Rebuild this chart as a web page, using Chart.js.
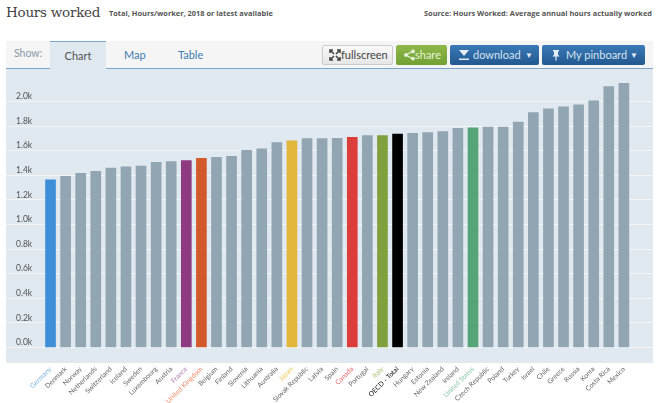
<!DOCTYPE html>
<html lang='en'>

<head>
  <meta charset='UTF-8'>
  <title>Hours worked</title>
  <script src="https://cdn.jsdelivr.net/npm/chart.js@4/dist/chart.umd.min.js"></script>
  <style>
    html, body { margin: 0; padding: 0; background: #fff; overflow: hidden; }
    body { width: 660px; height: 403px; position: relative; font-family: "Open Sans", sans-serif; }
    .abs { position: absolute; white-space: nowrap; }
    #title { left: 6px; top: 1px; font: 13.5px/22px "DejaVu Serif", serif; letter-spacing: -.25px; color: #444; }
    #subtitle { left: 109px; top: 7px; font: 700 7.4px/12px "Open Sans", sans-serif; color: #555; }
    #source { right: 8px; top: 7px; font: 700 7.4px/12px "Open Sans", sans-serif; color: #555; }
    #toolbar { left: 6px; top: 41px; width: 647px; height: 27px; background: #f5f5f5; border-bottom: 1px solid #7ba7cc; }
    #show { left: 14px; top: 45px; font: 10.5px/17px Lato, sans-serif; color: #8a98a8; }
    #tab { left: 50px; top: 41px; width: 56px; height: 28px; box-sizing: border-box; background: #e0e8f0; border-top: 1px solid #7ba7cc;
      text-align: center; font: 11px/27px Lato, sans-serif; color: #555; z-index: 2; }
    .link { top: 46px; font: 11px/17px Lato, sans-serif; color: #3d7bb0; }
    .btn { top: 45px; height: 20px; box-sizing: border-box; border-radius: 2px; }
    .txt { top: 46px; font: 11px/18px Lato, sans-serif; }
    .icon { top: 49px; width: 12px; height: 12px; }
    #fs { left: 322px; width: 71px; background: linear-gradient(#fafafa, #e6e6e6); border: 1px solid #ccc; }
    #share { left: 396px; width: 51px; background: linear-gradient(#8fb84a, #71a032); }
    #download { left: 450px; width: 89px; background: linear-gradient(#3a7ab8, #22588f); }
    #pinboard { left: 542px; width: 103px; background: linear-gradient(#3a7ab8, #22588f); }
    #chart { position: absolute; left: 0; top: 0; }
  </style>
</head>

<body>
<div class='abs' id='title'>Hours worked</div>
<div class='abs' id='subtitle'>Total, Hours/worker, 2018 or latest available</div>
<div class='abs' id='source'>Source: Hours Worked: Average annual hours actually worked</div>
<canvas id='chart' width='660' height='403'></canvas>
<div class='abs' id='toolbar'></div>
<div class='abs' id='show'>Show:</div>
<div class='abs' id='tab'>Chart</div>
<div class='abs link' style='left:124px'>Map</div>
<div class='abs link' style='left:178px'>Table</div>

<div class='abs btn' id='fs'></div>
<svg class='abs icon' style='left:329px' viewBox='0 0 12 12' fill='none' stroke='#444' stroke-width='1.6'>
  <path d='M1 4V1H4M8 1H11V4M11 8V11H8M4 11H1V8M2 2L5 5M10 2L7 5M10 10L7 7M2 10L5 7'/>
</svg>
<div class='abs txt' style='left:341px;color:#444'>fullscreen</div>

<div class='abs btn' id='share'></div>
<svg class='abs icon' style='left:403px' viewBox='0 0 12 12' fill='#e8f2d8' stroke='#e8f2d8' stroke-width='1.2'>
  <path d='M10 2L3 6L10 10' fill='none'/><circle cx='3' cy='6' r='1.3'/><circle cx='10' cy='2.4' r='1.3'/><circle cx='10' cy='9.6' r='1.3'/>
</svg>
<div class='abs txt' style='left:415px;color:#e8f2d8'>share</div>

<div class='abs btn' id='download'></div>
<svg class='abs icon' style='left:458px' viewBox='0 0 12 12' fill='#e3edf6'>
  <path d='M1 1H11L6 7ZM1 9.5H11V11H1Z'/>
</svg>
<div class='abs txt' style='left:473px;color:#d5e3f0'>download</div>
<div class='abs txt' style='left:525px;color:#e3edf6;font-size:8px'>▼</div>

<div class='abs btn' id='pinboard'></div>
<svg class='abs icon' style='left:550px' viewBox='0 0 12 12' fill='#e3edf6'>
  <path d='M3 1H9V2.5H8V5.5L9.5 7.5H6.6V11.5H5.4V7.5H2.5L4 5.5V2.5H3Z'/>
</svg>
<div class='abs txt' style='left:566px;color:#d5e3f0'>My pinboard</div>
<div class='abs txt' style='left:630px;color:#e3edf6;font-size:8px'>▼</div>

<script>
  const countries = ['Germany', 'Denmark', 'Norway', 'Netherlands', 'Switzerland', 'Iceland', 'Sweden', 'Luxembourg',
    'Austria', 'France', 'United Kingdom', 'Belgium', 'Finland', 'Slovenia', 'Lithuania', 'Australia', 'Japan',
    'Slovak Republic', 'Latvia', 'Spain', 'Canada', 'Portugal', 'Italy', 'OECD - Total', 'Hungary', 'Estonia',
    'New Zealand', 'Ireland', 'United States', 'Czech Republic', 'Poland', 'Turkey', 'Israel', 'Chile', 'Greece',
    'Russia', 'Korea', 'Costa Rica', 'Mexico'];
  const hours = [1363, 1392, 1416, 1433, 1459, 1469, 1474, 1506, 1511, 1520, 1538, 1545, 1555, 1603, 1616, 1665, 1680,
    1698, 1699, 1701, 1708, 1722, 1723, 1734, 1741, 1748, 1756, 1782, 1786, 1792, 1792, 1832, 1910, 1941, 1956, 1972,
    2005, 2121, 2148];
  const yTicks = [0, 200, 400, 600, 800, 1000, 1200, 1400, 1600, 1800, 2000];

  const barColors = {
    'Germany': '#3f8fd8',
    'France': '#8e3a80',
    'United Kingdom': '#d2592c',
    'Japan': '#e0b73a',
    'Canada': '#dc3c3a',
    'Italy': '#7fa03c',
    'OECD - Total': '#000000',
    'United States': '#55a579'
  };
  const labelColors = {
    'Germany': '#7fb2e5',
    'France': '#b27cb0',
    'United Kingdom': '#ee8a6a',
    'Japan': '#ecc862',
    'Canada': '#e86a68',
    'Italy': '#a8c070',
    'OECD - Total': '#111111',
    'United States': '#8cc8a4'
  };

  new Chart(document.getElementById('chart'), {
    type: 'bar',
    data: {
      datasets: [{
        data: countries.map((c, i) => ({x: i, y: hours[i]})),
        backgroundColor: countries.map(c => barColors[c] || '#92a5b2'),
        barThickness: 10
      }]
    },
    options: {
      responsive: false,
      animation: false,
      layout: {padding: {left: 6, right: 7, top: 69, bottom: 0}},
      plugins: {
        legend: {display: false},
        tooltip: {enabled: false}
      },
      scales: {
        x: {
          type: 'linear',
          offset: false,
          min: -2.95,
          max: 39.93,
          afterBuildTicks: s => { s.ticks = countries.map((c, i) => ({value: i})); },
          afterFit: s => { s.height = 40; s.paddingLeft = 0; s.paddingRight = 0; },
          border: {display: false},
          grid: {display: false, drawTicks: false},
          ticks: {
            autoSkip: false,
            minRotation: 45,
            maxRotation: 45,
            padding: 2,
            labelOffset: 0,
            font: {family: 'Lato', size: 6.8},
            color: c => labelColors[countries[c.tick.value]] || '#666',
            callback: v => countries[v]
          }
        },
        y: {
          min: -126,
          max: 2264,
          afterBuildTicks: s => { s.ticks = yTicks.map(v => ({value: v})); },
          afterFit: s => { s.width = 0; s.paddingTop = 0; s.paddingBottom = 0; },
          border: {display: false},
          grid: {color: '#f4f7fa', lineWidth: 1, drawTicks: false},
          ticks: {
            mirror: true,
            padding: 10,
            labelOffset: -5,
            font: {family: 'Lato', size: 8.5},
            color: '#555',
            callback: v => (v / 1000).toFixed(1) + 'k'
          }
        }
      }
    },
    plugins: [{
      id: 'bg',
      beforeDraw: chart => {
        const a = chart.chartArea;
        chart.ctx.fillStyle = '#e0e8f0';
        chart.ctx.fillRect(a.left, a.top, a.right - a.left, a.bottom - a.top);
      }
    }]
  });
</script>
</body>

</html>
